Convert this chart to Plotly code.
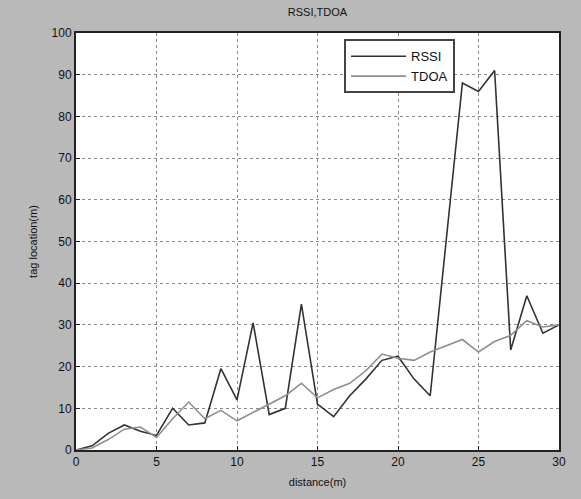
import plotly.graph_objects as go

distance = list(range(0, 31))
rssi = [0, 1, 4, 6, 4.5, 3.5, 10, 6, 6.5, 19.5, 12, 30.5, 8.5, 10, 35, 11, 8, 13, 17, 21.5,
        22.5, 17, 13, 50, 88, 86, 91, 24, 37, 28, 30]
tdoa = [0, 0.5, 2.5, 5, 5.5, 3, 7.5, 11.5, 7.5, 9.5, 7, 9, 11, 13, 16, 12.5, 14.5, 16, 19, 23,
        22, 21.5, 23.5, 25, 26.5, 23.5, 26, 27.5, 31, 29.5, 30]
x_ticks = [0, 5, 10, 15, 20, 25, 30]
y_ticks = [0, 10, 20, 30, 40, 50, 60, 70, 80, 90, 100]

fig = go.Figure()
fig.add_trace(go.Scatter(x=distance, y=rssi, mode="lines", name="RSSI",
                         line=dict(color="#333333", width=1.6)))
fig.add_trace(go.Scatter(x=distance, y=tdoa, mode="lines", name="TDOA",
                         line=dict(color="#8f8f8f", width=1.6)))

axis_common = dict(showgrid=True, gridcolor="#8a8a8a", griddash="dot", gridwidth=1,
                   showline=True, linecolor="#222222", linewidth=2, mirror=True,
                   ticks="inside", ticklen=4, tickcolor="#222222", zeroline=False,
                   tickfont=dict(family="Liberation Sans, Arial", size=12, color="#111111"))

fig.update_xaxes(range=[0, 30], tickvals=x_ticks,
                 title=dict(text="distance(m)", standoff=10,
                            font=dict(family="Liberation Sans, Arial", size=11, color="#111111")),
                 **axis_common)
fig.update_yaxes(range=[0, 100], tickvals=y_ticks,
                 title=dict(text="tag location(m)", standoff=12,
                            font=dict(family="Liberation Sans, Arial", size=11, color="#111111")),
                 **axis_common)

fig.update_layout(
    width=581, height=499,
    margin=dict(l=76, r=22, t=33, b=45),
    paper_bgcolor="#b9b9b9",
    plot_bgcolor="#ffffff",
    title=dict(text="RSSI,TDOA", x=0.5, xref="paper", y=0.975, yanchor="middle",
               font=dict(family="Liberation Sans, Arial", size=11, color="#111111")),
    legend=dict(x=0.555, y=0.985, xanchor="left", yanchor="top",
                bgcolor="#ffffff", bordercolor="#444444", borderwidth=2,
                itemwidth=55, tracegroupgap=4,
                font=dict(family="Liberation Sans, Arial", size=13, color="#111111")),
    showlegend=True,
)

fig.write_html("out.html", config={"displayModeBar": False},
               post_script="document.body.style.margin='0';")
